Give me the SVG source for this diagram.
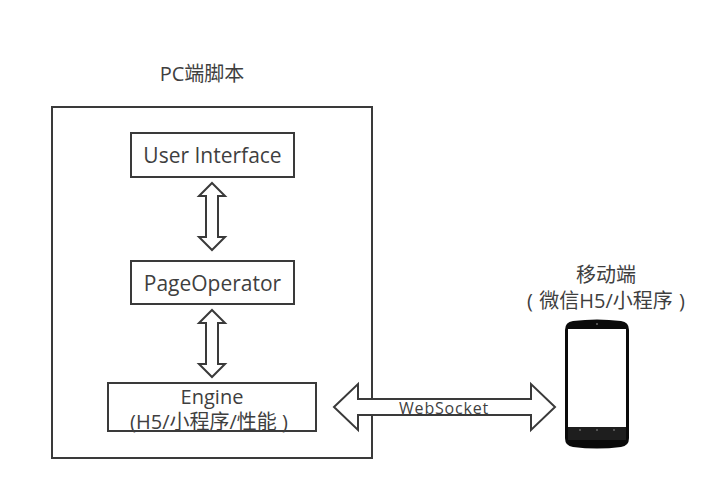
<svg xmlns="http://www.w3.org/2000/svg" width="725" height="491" viewBox="0 0 725 491">
<style>
.b{fill:#fff;stroke:#3a3a3a;stroke-width:2}
.a{fill:#fff;stroke:#3a3a3a;stroke-width:2;stroke-linejoin:miter}
text{font-family:"Open Sans","Noto Sans CJK SC",sans-serif;fill:#3f3f3f;text-anchor:middle}
.t{font-size:21px}
.s{font-size:20px}
</style>
<rect width="725" height="491" fill="#fff"/>
<g id="pc-script">
<rect class="b" x="52" y="107" width="320" height="351"/>
<text class="s" x="202" y="81">PC端脚本</text>
</g>
<g id="user-interface">
<rect class="b" x="131" y="133" width="163" height="44"/>
<text class="t" x="212.500" y="163">User Interface</text>
</g>
<g id="page-operator">
<rect class="b" x="131" y="261" width="163" height="43"/>
<text class="t" x="212.500" y="291">PageOperator</text>
</g>
<g id="engine">
<rect class="b" x="108" y="383" width="208" height="48"/>
<text class="s" x="212" y="404">Engine</text>
<text class="s" x="209" y="429">(H5/小程序/性能 )</text>
</g>
<g id="connectors">
<path class="a" d="M212 183L225 196H218V237H225L212 250L199 237H206V196H199Z"/>
<path class="a" d="M212 310L225 323H218V364H225L212 377L199 364H206V323H199Z"/>
<path class="a" d="M334 407L358 384V399H531V384L555 407L531 430V415H358V430Z"/>
</g>
<text x="444" y="414" style="font-size:16px;letter-spacing:.8px">WebSocket</text>
<g id="mobile">
<text class="s" x="606" y="282">移动端</text>
<text x="606" y="308" style="font-size:20px"><tspan x="530">(</tspan><tspan x="606">微信H5/小程序</tspan><tspan x="682">)</tspan></text>
<path d="M565 330Q565 322 573 321Q597 318 621 321Q629 322 629 330V438Q629 446 621 447Q597 450 573 447Q565 446 565 438Z" fill="#0a0a0a"/>
<rect x="568" y="329" width="58" height="98" fill="#fff"/>
<rect x="568" y="427" width="58" height="13" fill="#1e1e1e"/>
<g fill="#666"><circle cx="580" cy="430" r="1"/><circle cx="597" cy="430" r="1"/><circle cx="614" cy="430" r="1"/><circle cx="597" cy="324" r="1"/></g>
</g>
</svg>
